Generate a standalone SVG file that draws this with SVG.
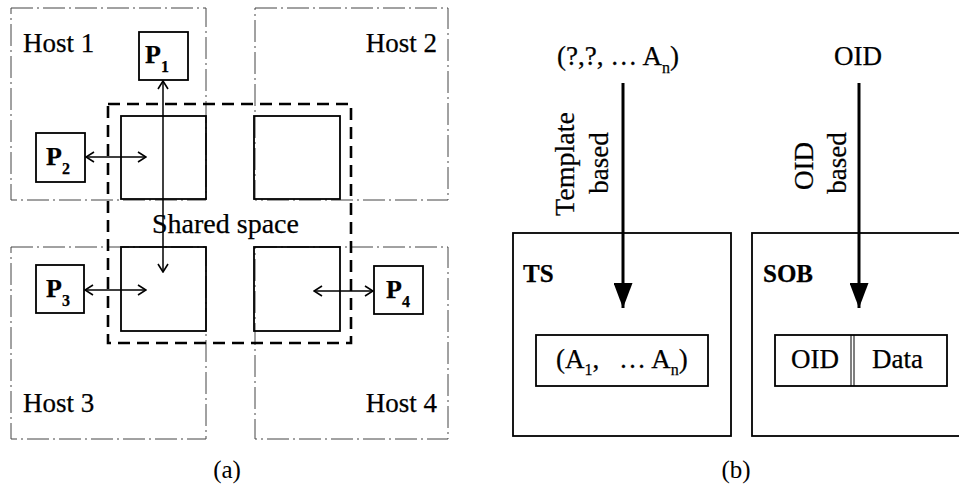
<svg xmlns="http://www.w3.org/2000/svg" width="959" height="489" viewBox="0 0 959 489">
<defs>
<style>
.host{fill:none;stroke:#444;stroke-width:1;stroke-dasharray:22 4 2 4}
.shared{fill:none;stroke:#000;stroke-width:2.6;stroke-dasharray:12 7}
.box{fill:#fff;stroke:#000;stroke-width:1.8}
.t{font-family:"Liberation Serif","Times New Roman",serif;fill:#000;stroke:#000;stroke-width:0.25}
.lbl{font-size:27px}
.p{font-size:26px;font-weight:bold}
.sub{font-size:16px;font-weight:bold}
.cap{font-size:25px;stroke-width:0}
.con{fill:none;stroke:#000;stroke-width:1.5}
.bcon{fill:none;stroke:#000;stroke-width:3}
</style>
<marker id="open" viewBox="0 0 10 12" refX="9" refY="6" markerWidth="10" markerHeight="12" markerUnits="userSpaceOnUse" orient="auto-start-reverse">
<path d="M1,1 L9,6 L1,11" fill="none" stroke="#000" stroke-width="1.6"/>
</marker>
<marker id="solid" viewBox="0 0 25 19" refX="25" refY="9.5" markerWidth="25" markerHeight="19" markerUnits="userSpaceOnUse" orient="auto">
<path d="M0,0 L25,9.5 L0,19 Z" fill="#000"/>
</marker>
</defs>
<rect width="959" height="489" fill="#fff"/>

<g id="host1"><rect class="host" x="11" y="8" width="195" height="192"/><text class="t lbl" x="23" y="52">Host 1</text></g>
<g id="host2"><rect class="host" x="255" y="8" width="193" height="192"/><text class="t lbl" x="437" y="52" text-anchor="end">Host 2</text></g>
<g id="host3"><rect class="host" x="11" y="247" width="195" height="192"/><text class="t lbl" x="23" y="412">Host 3</text></g>
<g id="host4"><rect class="host" x="255" y="247" width="193" height="192"/><text class="t lbl" x="437" y="412" text-anchor="end">Host 4</text></g>

<g id="shared-space"><rect class="shared" x="108" y="104" width="243" height="239"/><text class="t" font-size="28" x="152" y="233">Shared space</text></g>
<g id="space-1"><rect class="box" x="121" y="116" width="85" height="83" style="fill:none"/></g>
<g id="space-2"><rect class="box" x="254" y="116" width="86" height="83" style="fill:none"/></g>
<g id="space-3"><rect class="box" x="121" y="247" width="85" height="84" style="fill:none"/></g>
<g id="space-4"><rect class="box" x="254" y="247" width="86" height="84" style="fill:none"/></g>

<g id="p1"><rect class="box" x="139" y="32" width="49" height="48"/><text class="t p" x="145" y="63">P<tspan class="sub" dy="9">1</tspan></text></g>
<g id="p2"><rect class="box" x="36" y="133" width="49" height="49"/><text class="t p" x="46" y="165">P<tspan class="sub" dy="9">2</tspan></text></g>
<g id="p3"><rect class="box" x="36" y="265" width="48" height="48"/><text class="t p" x="46" y="297">P<tspan class="sub" dy="9">3</tspan></text></g>
<g id="p4"><rect class="box" x="374" y="266" width="49" height="48"/><text class="t p" x="386" y="298">P<tspan class="sub" dy="9">4</tspan></text></g>

<g id="connectors-a">
<line class="con" x1="163" y1="81" x2="163" y2="272" marker-start="url(#open)" marker-end="url(#open)"/>
<line class="con" x1="86" y1="157" x2="146" y2="157" marker-start="url(#open)" marker-end="url(#open)"/>
<line class="con" x1="85" y1="290" x2="146" y2="290" marker-start="url(#open)" marker-end="url(#open)"/>
<line class="con" x1="314" y1="291" x2="373" y2="291" marker-start="url(#open)" marker-end="url(#open)"/>
</g>

<text class="t cap" x="227" y="478" text-anchor="middle">(a)</text>

<g id="template-query"><text class="t lbl" x="557" y="65">(?,?, … A<tspan font-size="16" dy="8">n</tspan><tspan dy="-8">)</tspan></text></g>
<g id="oid-query"><text class="t lbl" x="834" y="65">OID</text></g>

<g id="ts"><rect class="box" x="513" y="233" width="218" height="203" style="fill:none"/><text class="t" x="523" y="282" font-size="25" font-weight="bold">TS</text></g>
<g id="tuple"><rect class="box" x="536" y="335" width="172" height="51"/><text class="t lbl" x="556" y="368">(A<tspan font-size="16" dy="7">1</tspan><tspan dy="-7">,</tspan><tspan x="619">… A</tspan><tspan font-size="16" dy="7">n</tspan><tspan dy="-7">)</tspan></text></g>

<g id="sob"><rect class="box" x="752" y="233" width="215" height="203" style="fill:none"/><text class="t" x="763" y="282" font-size="25" font-weight="bold">SOB</text></g>
<g id="object"><rect class="box" x="775" y="335" width="172" height="51"/><line x1="851" y1="335" x2="851" y2="386" stroke="#000" stroke-width="1"/><line x1="854" y1="335" x2="854" y2="386" stroke="#000" stroke-width="1"/><text class="t lbl" x="791" y="368">OID</text><text class="t lbl" x="872" y="368">Data</text></g>

<g id="connectors-b">
<line class="bcon" x1="623" y1="83" x2="623" y2="308" marker-end="url(#solid)"/>
<line class="bcon" x1="859" y1="83" x2="859" y2="308" marker-end="url(#solid)"/>
<text class="t" font-size="28" transform="translate(574,164) rotate(-90)" text-anchor="middle">Template</text>
<text class="t lbl" transform="translate(608,163) rotate(-90)" text-anchor="middle">based</text>
<text class="t lbl" transform="translate(813,166) rotate(-90)" text-anchor="middle">OID</text>
<text class="t lbl" transform="translate(846,163) rotate(-90)" text-anchor="middle">based</text>
</g>

<text class="t cap" x="736" y="478" text-anchor="middle">(b)</text>
</svg>
